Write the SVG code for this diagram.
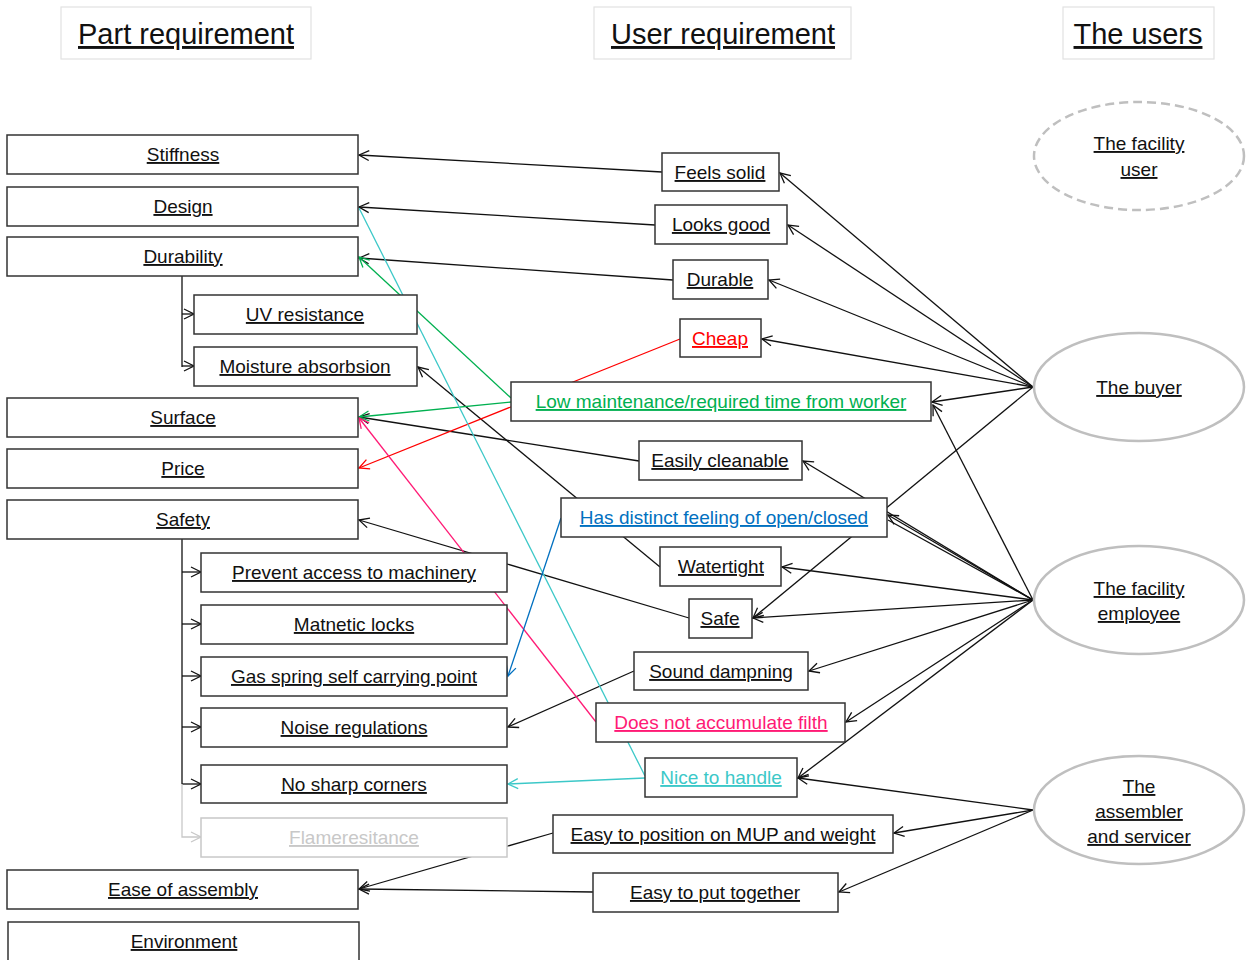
<svg xmlns="http://www.w3.org/2000/svg" width="1252" height="960" viewBox="0 0 1252 960">
<defs>
<style>
text{font-family:"Liberation Sans",Arial,sans-serif;font-size:19px;fill:#111;text-anchor:middle;text-decoration:underline}
.hdr{font-size:29px}
.hbox{fill:#fff;stroke:#e2e2e2;stroke-width:1.2}
.box{fill:#fff;stroke:#333;stroke-width:1.5}
.gbox{fill:#fff;stroke:#c8c8c8;stroke-width:1.5}
.ell{fill:#fff;stroke:#bfbfbf;stroke-width:2.5}
.dash{stroke-dasharray:9 5}
.c{fill:none;stroke:#111;stroke-width:1.3}
.k{marker-end:url(#mk)}
.red{stroke:#ff0000;marker-end:url(#mr)}
.grn{stroke:#00b050;marker-end:url(#mg)}
.pnk{stroke:#ff1a75;marker-end:url(#mp)}
.cyn{stroke:#3cc8c8;marker-end:url(#mc)}
.blu{stroke:#0070c0;marker-end:url(#mb)}
.gry{stroke:#c8c8c8;marker-end:url(#my)}
</style>
<marker id="mk" viewBox="-12 -7 14 14" refX="0" refY="0" markerWidth="14" markerHeight="14" markerUnits="userSpaceOnUse" orient="auto"><path d="M-10,-5 L0,0 L-10,5" fill="none" stroke="#111" stroke-width="1.3"/></marker>
<marker id="mr" viewBox="-12 -7 14 14" refX="0" refY="0" markerWidth="14" markerHeight="14" markerUnits="userSpaceOnUse" orient="auto"><path d="M-10,-5 L0,0 L-10,5" fill="none" stroke="#ff0000" stroke-width="1.3"/></marker>
<marker id="mg" viewBox="-12 -7 14 14" refX="0" refY="0" markerWidth="14" markerHeight="14" markerUnits="userSpaceOnUse" orient="auto"><path d="M-10,-5 L0,0 L-10,5" fill="none" stroke="#00b050" stroke-width="1.3"/></marker>
<marker id="mp" viewBox="-12 -7 14 14" refX="0" refY="0" markerWidth="14" markerHeight="14" markerUnits="userSpaceOnUse" orient="auto"><path d="M-10,-5 L0,0 L-10,5" fill="none" stroke="#ff1a75" stroke-width="1.3"/></marker>
<marker id="mc" viewBox="-12 -7 14 14" refX="0" refY="0" markerWidth="14" markerHeight="14" markerUnits="userSpaceOnUse" orient="auto"><path d="M-10,-5 L0,0 L-10,5" fill="none" stroke="#3cc8c8" stroke-width="1.3"/></marker>
<marker id="mb" viewBox="-12 -7 14 14" refX="0" refY="0" markerWidth="14" markerHeight="14" markerUnits="userSpaceOnUse" orient="auto"><path d="M-10,-5 L0,0 L-10,5" fill="none" stroke="#0070c0" stroke-width="1.3"/></marker>
<marker id="my" viewBox="-12 -7 14 14" refX="0" refY="0" markerWidth="14" markerHeight="14" markerUnits="userSpaceOnUse" orient="auto"><path d="M-10,-5 L0,0 L-10,5" fill="none" stroke="#c8c8c8" stroke-width="1.3"/></marker>
</defs>
<rect width="1252" height="960" fill="#fff"/>

<g id="headers">
<g id="h-part"><rect class="hbox" x="61" y="7" width="250" height="52"/><text class="hdr" x="186" y="44">Part requirement</text></g>
<g id="h-user"><rect class="hbox" x="594" y="7" width="257" height="52"/><text class="hdr" x="723" y="44">User requirement</text></g>
<g id="h-users"><rect class="hbox" x="1063" y="7" width="151" height="52"/><text class="hdr" x="1138" y="44">The users</text></g>
</g>

<g id="connectors">
<line class="c k" x1="1033" y1="387" x2="780" y2="173"/>
<line class="c k" x1="1033" y1="387" x2="788" y2="225"/>
<line class="c k" x1="1033" y1="387" x2="769" y2="280"/>
<line class="c k" x1="1033" y1="387" x2="762" y2="339"/>
<line class="c k" x1="1033" y1="387" x2="932" y2="402"/>
<line class="c k" x1="1033" y1="387" x2="753" y2="618"/>
<line class="c k" x1="1033" y1="600" x2="933" y2="405"/>
<line class="c k" x1="1033" y1="600" x2="803" y2="461"/>
<line class="c k" x1="1033" y1="600" x2="888" y2="515"/>
<line class="c" x1="1033" y1="600" x2="888" y2="520"/>
<line class="c k" x1="1033" y1="600" x2="782" y2="567"/>
<line class="c k" x1="1033" y1="600" x2="753" y2="618"/>
<line class="c k" x1="1033" y1="600" x2="809" y2="671"/>
<line class="c k" x1="1033" y1="600" x2="846" y2="722"/>
<line class="c k" x1="1033" y1="600" x2="798" y2="778"/>
<line class="c k" x1="1033" y1="810" x2="798" y2="778"/>
<line class="c k" x1="1033" y1="810" x2="894" y2="833"/>
<line class="c k" x1="1033" y1="810" x2="839" y2="892"/>
<line class="c k" x1="662" y1="172" x2="359" y2="155"/>
<line class="c k" x1="655" y1="225" x2="359" y2="207"/>
<line class="c k" x1="673" y1="280" x2="359" y2="258"/>
<line class="c k" x1="660" y1="567" x2="418" y2="367"/>
<line class="c k" x1="639" y1="461" x2="359" y2="417"/>
<line class="c k" x1="689" y1="618" x2="359" y2="520"/>
<line class="c k" x1="634" y1="671" x2="508" y2="727"/>
<line class="c k" x1="553" y1="833" x2="359" y2="889"/>
<line class="c k" x1="593" y1="892" x2="359" y2="889"/>
<line class="c red" x1="680" y1="339" x2="359" y2="468"/>
<line class="c grn" x1="511" y1="402" x2="359" y2="417"/>
<line class="c grn" x1="511" y1="398" x2="359" y2="257"/>
<line class="c pnk" x1="596" y1="722" x2="359" y2="418"/>
<line class="c cyn" x1="645" y1="778" x2="508" y2="784"/>
<line class="c" style="stroke:#3cc8c8" x1="645" y1="776" x2="359" y2="208"/>
<line class="c blu" x1="561" y1="518" x2="508" y2="676"/>
<path class="c" d="M182,276 V367"/>
<line class="c k" x1="182" y1="314" x2="194" y2="314"/>
<line class="c k" x1="182" y1="366" x2="194" y2="366"/>
<path class="c" d="M182,539 V784"/>
<line class="c k" x1="182" y1="572" x2="201" y2="572"/>
<line class="c k" x1="182" y1="624" x2="201" y2="624"/>
<line class="c k" x1="182" y1="676" x2="201" y2="676"/>
<line class="c k" x1="182" y1="727" x2="201" y2="727"/>
<line class="c k" x1="182" y1="784" x2="201" y2="784"/>
<path class="c gry" d="M182,784 V837 H201"/>
</g>

<g id="part-stiffness"><rect class="box" x="7" y="135" width="351" height="39"/><text x="183" y="161">Stiffness</text></g>
<g id="part-design"><rect class="box" x="7" y="187" width="351" height="39"/><text x="183" y="213">Design</text></g>
<g id="part-durability"><rect class="box" x="7" y="237" width="351" height="39"/><text x="183" y="263">Durability</text></g>
<g id="part-uv"><rect class="box" x="194" y="295" width="223" height="39"/><text x="305" y="321">UV resistance</text></g>
<g id="part-moisture"><rect class="box" x="194" y="347" width="223" height="39"/><text x="305" y="373">Moisture absorbsion</text></g>
<g id="part-surface"><rect class="box" x="7" y="398" width="351" height="39"/><text x="183" y="424">Surface</text></g>
<g id="part-price"><rect class="box" x="7" y="449" width="351" height="39"/><text x="183" y="475">Price</text></g>
<g id="part-safety"><rect class="box" x="7" y="500" width="351" height="39"/><text x="183" y="526">Safety</text></g>
<g id="part-prevent"><rect class="box" x="201" y="553" width="306" height="39"/><text x="354" y="579">Prevent access to machinery</text></g>
<g id="part-magnetic"><rect class="box" x="201" y="605" width="306" height="39"/><text x="354" y="631">Matnetic locks</text></g>
<g id="part-gas"><rect class="box" x="201" y="657" width="306" height="39"/><text x="354" y="683">Gas spring self carrying point</text></g>
<g id="part-noise"><rect class="box" x="201" y="708" width="306" height="39"/><text x="354" y="734">Noise regulations</text></g>
<g id="part-corners"><rect class="box" x="201" y="765" width="306" height="38"/><text x="354" y="791">No sharp corners</text></g>
<g id="part-flame"><rect class="gbox" x="201" y="818" width="306" height="39"/><text x="354" y="844" style="fill:#c8c8c8">Flameresitance</text></g>
<g id="part-assembly"><rect class="box" x="7" y="870" width="351" height="39"/><text x="183" y="896">Ease of assembly</text></g>
<g id="part-environment"><rect class="box" x="8" y="922" width="351" height="48"/><text x="184" y="948">Environment</text></g>

<g id="user-feels"><rect class="box" x="662" y="153" width="117" height="38"/><text x="720" y="179">Feels solid</text></g>
<g id="user-looks"><rect class="box" x="655" y="205" width="132" height="39"/><text x="721" y="231">Looks good</text></g>
<g id="user-durable"><rect class="box" x="673" y="260" width="95" height="39"/><text x="720" y="286">Durable</text></g>
<g id="user-cheap"><rect class="box" x="680" y="319" width="81" height="38"/><text x="720" y="345" style="fill:#ff0000">Cheap</text></g>
<g id="user-lowmaint"><rect class="box" x="511" y="382" width="420" height="39"/><text x="721" y="408" style="fill:#00b050">Low maintenance/required time from worker</text></g>
<g id="user-clean"><rect class="box" x="639" y="441" width="163" height="39"/><text x="720" y="467">Easily cleanable</text></g>
<g id="user-distinct"><rect class="box" x="561" y="498" width="326" height="39"/><text x="724" y="524" style="fill:#0070c0">Has distinct feeling of open/closed</text></g>
<g id="user-watertight"><rect class="box" x="660" y="547" width="121" height="39"/><text x="721" y="573">Watertight</text></g>
<g id="user-safe"><rect class="box" x="689" y="599" width="63" height="39"/><text x="720" y="625">Safe</text></g>
<g id="user-sound"><rect class="box" x="634" y="652" width="174" height="38"/><text x="721" y="678">Sound dampning</text></g>
<g id="user-filth"><rect class="box" x="596" y="703" width="249" height="39"/><text x="721" y="729" style="fill:#ff1a75">Does not accumulate filth</text></g>
<g id="user-nice"><rect class="box" x="645" y="758" width="152" height="39"/><text x="721" y="784" style="fill:#3cc8c8">Nice to handle</text></g>
<g id="user-position"><rect class="box" x="553" y="815" width="340" height="38"/><text x="723" y="841">Easy to position on MUP and weight</text></g>
<g id="user-together"><rect class="box" x="593" y="873" width="245" height="39"/><text x="715" y="899">Easy to put together</text></g>

<g id="actor-user"><ellipse class="ell dash" cx="1139" cy="156" rx="105" ry="54"/><text x="1139" y="150">The facility</text><text x="1139" y="176">user</text></g>
<g id="actor-buyer"><ellipse class="ell" cx="1139" cy="387" rx="105" ry="54"/><text x="1139" y="394">The buyer</text></g>
<g id="actor-employee"><ellipse class="ell" cx="1139" cy="600" rx="105" ry="54"/><text x="1139" y="595">The facility</text><text x="1139" y="620">employee</text></g>
<g id="actor-assembler"><ellipse class="ell" cx="1139" cy="810" rx="105" ry="54"/><text x="1139" y="793">The</text><text x="1139" y="818">assembler</text><text x="1139" y="843">and servicer</text></g>
</svg>
